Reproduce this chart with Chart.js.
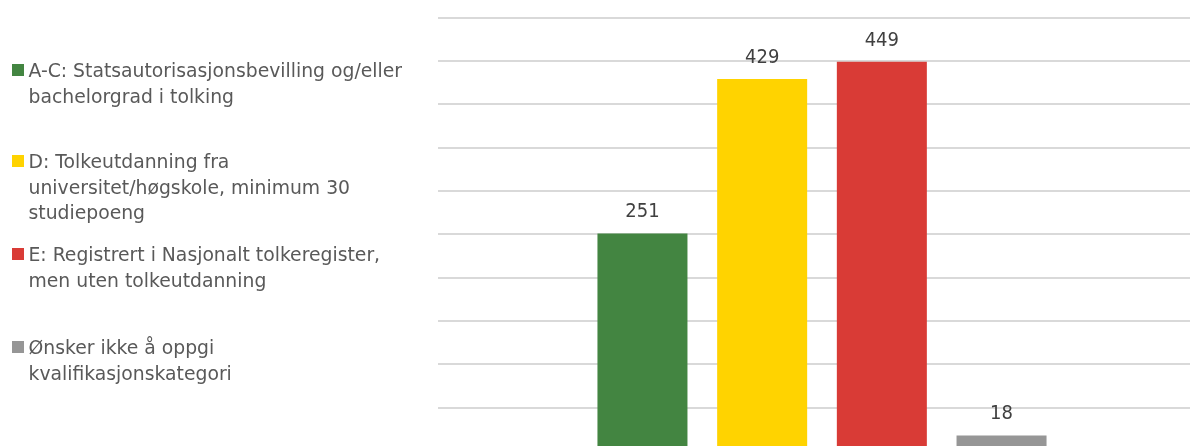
<!DOCTYPE html>
<html>
<head>
<meta charset="utf-8">
<script src="https://cdn.jsdelivr.net/npm/chart.js@4.4.1/dist/chart.umd.min.js"></script>
<style>
  html, body { margin: 0; padding: 0; background: #fff; overflow: hidden; width: 1190px; height: 446px; }
  #wrap { position: absolute; left: 0; top: 0; width: 1206px; height: 451px; }
  #legend { position: absolute; left: 0; top: 0; font-family: 'DejaVu Sans', sans-serif; font-size: 18.8px; color: #595959; }
  .item { position: absolute; left: 12px; }
  .sw { position: absolute; left: 0; width: 12px; height: 12px; }
  .tx { position: absolute; left: 16.5px; top: 0; line-height: 25.7px; white-space: nowrap; }
</style>
</head>
<body>
<div id="wrap"><canvas id="c"></canvas></div>
<div id="legend"></div>
<script>
// Qualification categories (legend text, one entry per line)
const seriesLines = [
  ['A-C: Statsautorisasjonsbevilling og/eller', 'bachelorgrad i tolking'],
  ['D: Tolkeutdanning fra', 'universitet/høgskole, minimum 30', 'studiepoeng'],
  ['E: Registrert i Nasjonalt tolkeregister,', 'men uten tolkeutdanning'],
  ['Ønsker ikke å oppgi', 'kvalifikasjonskategori']
];
const categories = [''];
const valuesAC = [251];
const valuesD = [429];
const valuesE = [449];
const valuesNone = [18];
const seriesValues = [valuesAC, valuesD, valuesE, valuesNone];
const seriesColors = ['#438541', '#FFD300', '#D93B36', '#969696'];
const yMin = 0, yMax = 500, yStep = 50;

// legend entry top positions
const legendTops = [58, 149, 242, 335];

const valueLabels = {
  id: 'valueLabels',
  afterDatasetsDraw(chart) {
    const ctx = chart.ctx;
    ctx.save();
    ctx.font = "20px 'DejaVu Sans Condensed', 'DejaVu Sans', sans-serif";
    ctx.fillStyle = '#404040';
    ctx.textAlign = 'center';
    ctx.textBaseline = 'alphabetic';
    chart.data.datasets.forEach((ds, i) => {
      chart.getDatasetMeta(i).data.forEach((el, j) => {
        ctx.fillText(String(ds.data[j]), el.x, el.y - 16);
      });
    });
    ctx.restore();
  }
};

const htmlLegend = {
  id: 'htmlLegend',
  afterUpdate(chart) {
    const box = document.getElementById('legend');
    box.innerHTML = '';
    chart.data.datasets.forEach((ds, i) => {
      const item = document.createElement('div');
      item.className = 'item';
      item.style.top = legendTops[i] + 'px';
      const sw = document.createElement('div');
      sw.className = 'sw';
      sw.style.background = ds.backgroundColor;
      sw.style.top = '6px';
      const tx = document.createElement('div');
      tx.className = 'tx';
      tx.innerHTML = ds.lines.map(s => s.replace(/&/g, '&amp;').replace(/</g, '&lt;')).join('<br>');
      item.appendChild(sw);
      item.appendChild(tx);
      box.appendChild(item);
    });
  }
};

new Chart(document.getElementById('c'), {
  type: 'bar',
  data: {
    labels: categories,
    datasets: seriesValues.map((vals, i) => ({
      label: seriesLines[i].join(' '),
      lines: seriesLines[i],
      data: vals,
      backgroundColor: seriesColors[i],
      borderWidth: 0,
      barPercentage: 0.752,
      categoryPercentage: 0.6234
    }))
  },
  options: {
    responsive: true,
    maintainAspectRatio: false,
    animation: false,
    layout: { padding: { left: 438, top: 17.5, right: 0, bottom: 0 } },
    plugins: { legend: { display: false }, tooltip: { enabled: false } },
    scales: {
      x: { display: false },
      y: {
        min: yMin, max: yMax,
        ticks: { display: false, stepSize: yStep },
        border: { display: false },
        grid: { color: '#d9d9d9', lineWidth: 2, drawTicks: false }
      }
    }
  },
  plugins: [valueLabels, htmlLegend]
});
</script>
</body>
</html>
